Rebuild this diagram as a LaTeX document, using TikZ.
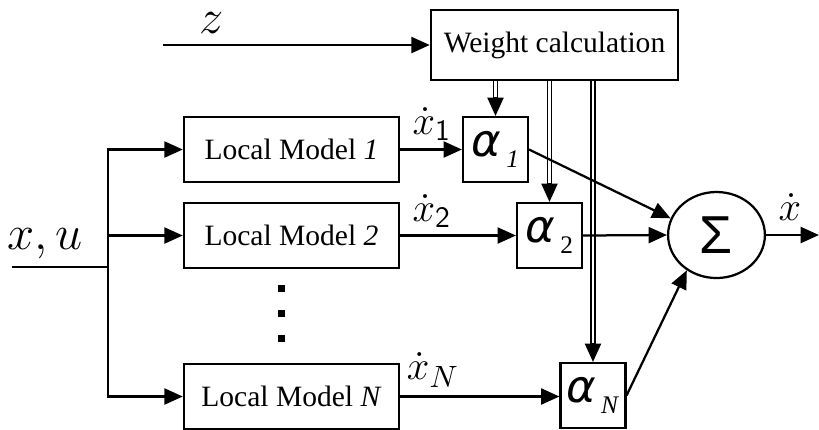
\documentclass[tikz,border=0pt]{standalone}
\usepackage{fontspec}
\setmainfont{Liberation Serif}
\newfontfamily\arialfont{Liberation Sans}
\newfontfamily\greekfont{DejaVu Sans}
\usetikzlibrary{arrows.meta, shapes.geometric, calc}

\newcommand{\gainlbl}[1]{{\greekfont\itshape\fontsize{16}{16}\selectfont α}\,\raisebox{-0.9ex}{\fontsize{9}{9}\selectfont #1}}

\begin{document}
\begin{tikzpicture}[
  x=0.0125cm, y=-0.0125cm, line width=0.8pt,
  >={Triangle[length=2.3mm, width=2mm]},
  block/.style = {draw, minimum width=#1, minimum height=0.81cm,
                  inner sep=0pt, font=\fontsize{10.5}{12}\selectfont},
  gain/.style  = {draw, minimum size=0.81cm, inner sep=0pt},
  sig/.style   = {font=\fontsize{15}{16}\selectfont, inner sep=0pt},
  dbl/.style   = {double, double distance=1pt, line width=0.5pt,
                  shorten >=2.2mm},
]
\useasboundingbox (0,0) rectangle (819,429);

%% blocks
\node[block=3.09cm, minimum height=0.875cm] (wc) at (554.5,45) {Weight calculation};
\node[block=2.69cm] (lm1) at (291.5,149.5) {Local Model \textit{1}};
\node[block=2.69cm] (lm2) at (291.5,235.5) {Local Model \textit{2}};
\node[block=2.69cm] (lmN) at (291.5,396.5) {Local Model \textit{N}};

%% weights
\node[gain] (a1) at (495.5,149.5) {\gainlbl{\textit{1}}};
\node[gain] (a2) at (549.5,235.5) {\gainlbl{2}};
\node[gain] (aN) at (593,395.5)   {\gainlbl{\textit{N}}};

%% summation
\node[draw, ellipse, minimum width=1.21cm, minimum height=1.075cm,
      inner sep=0pt, font=\arialfont\fontsize{19}{19}\selectfont] (sum) at (716.5,235) {Σ};

%% vertical dots
\foreach \y in {288,313,338}
  \fill (278.5,\y-3.5) rectangle ++(7,7);

%% signal labels
\node[sig, font=\fontsize{17}{18}\selectfont] (zlbl) at (212,23) {$z$};
\node[sig, font=\fontsize{17}{18}\selectfont] (xulbl) at (45,244) {$x, u$};
\node[sig] (x1lbl) at (432,124) {$\dot{x}_{\mathsf{1}}$};
\node[sig] (x2lbl) at (432,211) {$\dot{x}_{\mathsf{2}}$};
\node[sig] (xNlbl) at (433,370) {$\dot{x}_{N}$};
\node[sig] (xolbl) at (790,207) {$\dot{x}$};

%% inputs and output
\coordinate (zin)   at (163,45);
\coordinate (xin)   at (12,267);
\coordinate (split) at (108,267);
\coordinate (xout)  at (819,235);

\draw[->] (zin) -- (wc.west);
\draw (xin) -- (split);
\draw[->] (split) |- (lm1.west);
\draw[->] (split) |- (lm2.west);
\draw[->] (split) |- (lmN.west);

%% local models to weights
\draw[->] (lm1.east) -- (a1.west);
\draw[->] (lm2.east) -- (a2.west);
\draw[->] (lmN.east) -- (lmN.east -| aN.west);

%% weight signals
\draw[dbl] (a1.north |- wc.south) -- (a1.north);
\draw[->] ($(a1.north)+(0,-19)$) -- (a1.north);
\draw[dbl] (a2.north |- wc.south) -- (a2.north);
\draw[->] ($(a2.north)+(0,-19)$) -- (a2.north);
\draw[dbl] (aN.north |- wc.south) -- (aN.north);
\draw[->] ($(aN.north)+(0,-19)$) -- (aN.north);

%% weighted sum
\draw[->] (a1.east) -- (sum.160);
\draw[->] (a2.east) -- (sum.west);
\draw[->] (aN.east) -- (sum.230);
\draw[->] (sum.east) -- (xout);

\end{tikzpicture}
\end{document}
